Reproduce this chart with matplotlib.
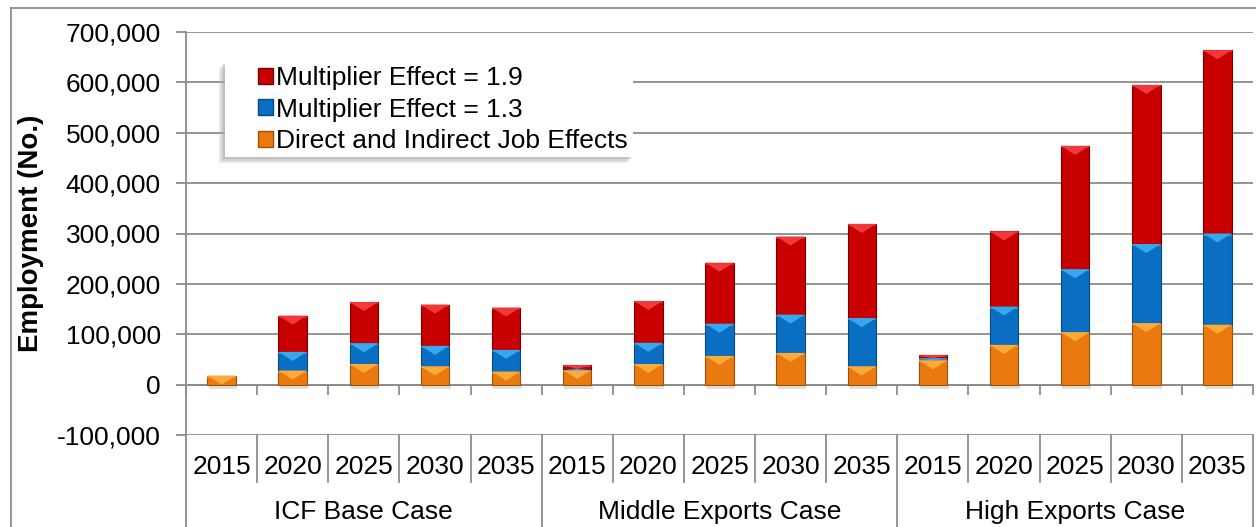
import numpy as np
import matplotlib
matplotlib.use('Agg')
import matplotlib.pyplot as plt
from matplotlib.lines import Line2D
from matplotlib.patches import Rectangle, Polygon, Patch
from matplotlib.ticker import FuncFormatter
import matplotlib.transforms as mtransforms

plt.rcParams['font.family'] = ['Liberation Sans', 'DejaVu Sans']

# ===================== 数据=====================
years = ['2015', '2020', '2025', '2030', '2035']
cases = ['ICF Base Case', 'Middle Exports Case', 'High Exports Case']
# 累计高度：直接+间接 / 乘数 1.3 / 乘数 1.9
direct = [18000, 28000, 41000, 36000, 26000,
          29000, 41000, 57000, 63000, 36000,
          48000, 79000, 104000, 122000, 119000]
total_13 = [18000, 65000, 82000, 77000, 69000,
            31000, 83000, 121000, 139000, 132000,
            52000, 155000, 229000, 279000, 300000]
total_19 = [18000, 137000, 164000, 159000, 153000,
            39000, 166000, 242000, 294000, 319000,
            59000, 304000, 474000, 595000, 664000]
labels = ['Multiplier Effect = 1.9', 'Multiplier Effect = 1.3', 'Direct and Indirect Job Effects']

# 颜色：主色 / 高光 / 边
C_RED = ('#C80000', '#EE3A3C', '#7A0000')
C_BLUE = ('#0A6FC2', '#36A9EE', '#064A84')
C_ORANGE = ('#EA7A10', '#FDAA38', '#9E5008')
GRID = '#8C8C8C'

W, H = 1256, 527
fig = plt.figure(figsize=(W / 100, H / 100), dpi=100)
L, R, T, B = 186, 1253, 32, 435  # 绘图区像素边界
ax = fig.add_axes([L / W, 1 - B / H, (R - L) / W, (B - T) / H])

YMIN, YMAX = -100000, 700000
BAR_W = 0.4
px2data = (YMAX - YMIN) / (B - T)


def draw_segment(x, bottom, top, colors):
    main, light, edge = colors
    if top - bottom <= 0:
        return
    ax.add_patch(Rectangle((x - BAR_W / 2, bottom), BAR_W, top - bottom,
                           facecolor=main, edgecolor=edge, lw=0.8, zorder=3))
    h = min(9 * px2data, (top - bottom))
    tri = Polygon([(x - BAR_W / 2, top), (x + BAR_W / 2, top), (x, top - h)],
                  closed=True, facecolor=light, edgecolor='none', zorder=4)
    ax.add_patch(tri)
    ax.add_patch(Rectangle((x - BAR_W / 2, top - 2 * px2data), BAR_W, min(2 * px2data, top - bottom),
                           facecolor=light, edgecolor='none', alpha=0.6, zorder=4))


xs = np.arange(len(direct))
for i, x in enumerate(xs):
    # 柱下阴影
    ax.add_patch(Rectangle((x - BAR_W / 2 + 0.02, -4 * px2data), BAR_W, 4 * px2data,
                           facecolor='#000000', alpha=0.12, edgecolor='none', zorder=2))
    draw_segment(x, 0, direct[i], C_ORANGE)
    draw_segment(x, direct[i], total_13[i], C_BLUE)
    draw_segment(x, total_13[i], total_19[i], C_RED)

ax.set_xlim(-0.5, len(direct) - 0.5)
ax.set_ylim(YMIN, YMAX)
ax.set_yticks(np.arange(YMIN, YMAX + 1, 100000))
ax.yaxis.set_major_formatter(FuncFormatter(lambda v, p: f'{v:,.0f}'))
ax.grid(axis='y', color=GRID, lw=1.3, zorder=0)
ax.set_axisbelow(True)
ax.tick_params(axis='y', direction='out', length=7, width=1.3, color=GRID, pad=11, labelsize=19)

for s in ['top', 'right']:
    ax.spines[s].set_visible(False)
ax.spines['left'].set_color(GRID)
ax.spines['left'].set_linewidth(1.3)
ax.spines['bottom'].set_position(('data', 0))
ax.spines['bottom'].set_color(GRID)
ax.spines['bottom'].set_linewidth(1.3)
ax.set_xticks(np.arange(-0.5, len(direct), 1.0))
ax.set_xticklabels([])
ax.tick_params(axis='x', direction='out', length=7, width=1.3, color=GRID)

# ===================== 分类轴（年份 + 情景）=====================
trans = mtransforms.blended_transform_factory(ax.transData, fig.transFigure)
y_top = 1 - B / H
y_mid = 1 - 482 / H
for k in range(1, len(direct) + 1):
    xb = k - 0.5
    y_end = 0 if k % len(years) == 0 else y_mid
    fig.add_artist(Line2D([xb, xb], [y_top, y_end], transform=trans, color=GRID, lw=1.3))
for i, x in enumerate(xs):
    fig.text(x, 1 - 467 / H, years[i % len(years)], transform=trans,
             ha='center', va='center', fontsize=19)
for j, c in enumerate(cases):
    xc = j * len(years) + (len(years) - 1) / 2
    fig.text(xc, 1 - 512 / H, c, transform=trans, ha='center', va='center', fontsize=19)

# 左轴线延伸到底
fig.add_artist(Line2D([L / W, L / W], [y_top, 0], transform=fig.transFigure, color=GRID, lw=1.3))
# 外框
fig.add_artist(Line2D([11 / W, 11 / W], [1 - 8 / H, 0], transform=fig.transFigure, color=GRID, lw=1.3))
fig.add_artist(Line2D([11 / W, 1], [1 - 8 / H, 1 - 8 / H], transform=fig.transFigure, color=GRID, lw=1.3))

fig.text(31 / W, 1 - 233 / H, 'Employment (No.)', rotation=90, ha='center', va='center',
         fontsize=20, fontweight='bold')

# ===================== 图例 =====================
bx0, by0, bx1, by1 = 225, 62, 633, 157
for k, a in [(6, 0.25), (4, 0.35), (2, 0.45)]:
    fig.add_artist(Rectangle((bx0 / W - k / W, 1 - by1 / H - k / H), (bx1 - bx0) / W, (by1 - by0) / H,
                             transform=fig.transFigure, facecolor='#AAAAAA', edgecolor='none',
                             alpha=a, zorder=5))
fig.add_artist(Rectangle((bx0 / W, 1 - by1 / H), (bx1 - bx0) / W, (by1 - by0) / H,
                         transform=fig.transFigure, facecolor='white', edgecolor='none', zorder=6))
handles = [Patch(facecolor=C_RED[0], edgecolor=C_RED[2]),
           Patch(facecolor=C_BLUE[0], edgecolor=C_BLUE[2]),
           Patch(facecolor=C_ORANGE[0], edgecolor=C_ORANGE[2])]
leg = fig.legend(handles, labels, loc='upper left', bbox_to_anchor=(258 / W, 1 - 66 / H),
                 bbox_transform=fig.transFigure, frameon=False, fontsize=19,
                 handlelength=0.55, handleheight=0.55, handletextpad=0.15,
                 labelspacing=0.29, borderpad=0, borderaxespad=0)
leg.set_zorder(7)

fig.savefig('out.png', dpi=100)
